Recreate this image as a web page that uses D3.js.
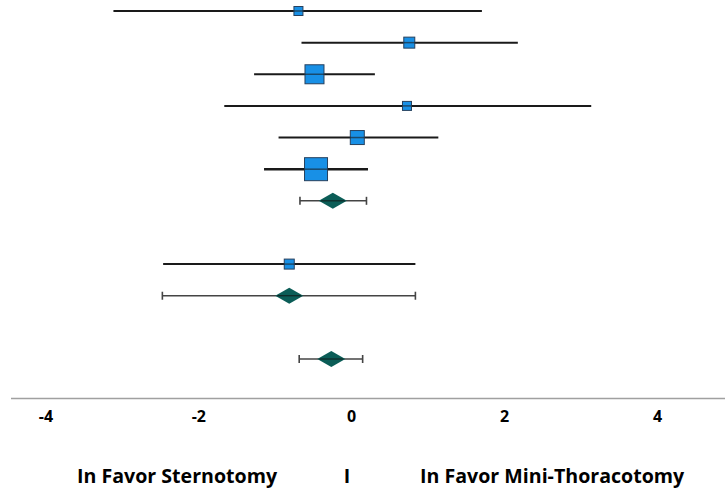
<!DOCTYPE html>
<html><head><meta charset="utf-8">
<script src="https://cdn.jsdelivr.net/npm/d3@7"></script>
<style>body{margin:0;background:#fff}svg{display:block}</style>
</head><body>
<svg id="c" width="725" height="492"></svg>
<script>
// rows: 0..10 positions (blank rows omitted)
const rowIndex = [0, 1, 2, 3, 4, 5, 6, 8, 9, 11];
const kinds    = ["study","study","study","study","study","study","pooled","study","pooled","pooled"];
const estimates = [-0.69, 0.76, -0.48, 0.73, 0.08, -0.46, -0.24, -0.81, -0.81, -0.26];
const lower     = [-3.11, -0.65, -1.27, -1.66, -0.95, -1.14, -0.67, -2.46, -2.47, -0.68];
const upper     = [ 1.71,  2.18,  0.31,  3.14,  1.14,  0.22,  0.20,  0.84,  0.84,  0.15];
const weights   = [9, 11, 19, 9, 14, 23, 0, 10, 0, 0]; // box size (relative weight)
const tickValues = [-4, -2, 0, 2, 4];
const leftLabel = "In Favor Sternotomy";
const midLabel = "I";
const rightLabel = "In Favor Mini-Thoracotomy";

const svg = d3.select("#c");
const x = d3.scaleLinear().domain([-4.45, 4.89]).range([11, 725]);
const y = d3.scaleLinear().domain([0, 11]).range([11, 359]);
const size = d3.scaleLinear().domain([0, 23]).range([0, 23]);

const data = rowIndex.map((r,i)=>({r, kind:kinds[i], est:estimates[i], lo:lower[i], hi:upper[i], w:weights[i]}));

const g = svg.append("g");
data.forEach(d=>{
  const cy = y(d.r);
  if (d.kind === "study") {
    g.append("line").attr("x1", x(d.lo)).attr("x2", x(d.hi)).attr("y1", cy).attr("y2", cy)
      .attr("stroke", "#1a1a1a").attr("stroke-width", d.w > 20 ? 2.6 : 2);
    const s = size(d.w);
    g.append("rect").attr("x", x(d.est)-s/2).attr("y", cy-s/2).attr("width", s).attr("height", s)
      .attr("fill", "#1890e6").attr("stroke", "#27415e").attr("stroke-width", 1);
    g.append("line").attr("x1", x(d.est)-s/2).attr("x2", x(d.est)+s/2).attr("y1", cy).attr("y2", cy)
      .attr("stroke", "#1a1a1a").attr("stroke-width", 1.5).attr("opacity",0.6);
  } else {
    g.append("line").attr("x1", x(d.lo)).attr("x2", x(d.hi)).attr("y1", cy).attr("y2", cy)
      .attr("stroke", "#444").attr("stroke-width", 1.6);
    [d.lo, d.hi].forEach(v=>{
      g.append("line").attr("x1", x(v)).attr("x2", x(v)).attr("y1", cy-4).attr("y2", cy+4)
        .attr("stroke", "#444").attr("stroke-width", 1.6);
    });
    const cx = x(d.est);
    g.append("path").attr("d", `M${cx-14},${cy}L${cx},${cy-8}L${cx+14},${cy}L${cx},${cy+8}Z`)
      .attr("fill", "#0b5d57");
    g.append("line").attr("x1", cx-12).attr("x2", cx+12).attr("y1", cy).attr("y2", cy)
      .attr("stroke", "#111").attr("stroke-width", 1.2).attr("opacity",0.7);
  }
});

// axis
const axisY = 398.5;
svg.append("line").attr("x1", x.range()[0]).attr("x2", x.range()[1]).attr("y1", axisY).attr("y2", axisY)
  .attr("stroke", "#a0a0a0").attr("stroke-width", 1.5);
const ax = svg.append("g").attr("transform", `translate(0,${axisY})`)
  .call(d3.axisBottom(x).tickValues(tickValues).tickSize(0).tickPadding(12).tickFormat(d => String(d)));
ax.select(".domain").remove();
ax.selectAll("text").attr("font-family", "'Open Sans', sans-serif").attr("font-weight", "bold")
  .attr("font-size", 16).attr("fill", "#000");

const lab = svg.append("g").attr("font-family", "'Open Sans', sans-serif").attr("font-weight","bold")
  .attr("font-size", 19.6).attr("fill", "#000");
lab.append("text").attr("x", 77).attr("y", 483).text(leftLabel);
lab.append("text").attr("x", 347).attr("y", 483).attr("text-anchor","middle").text(midLabel);
lab.append("text").attr("x", 420).attr("y", 483).text(rightLabel);
</script>
</body></html>
